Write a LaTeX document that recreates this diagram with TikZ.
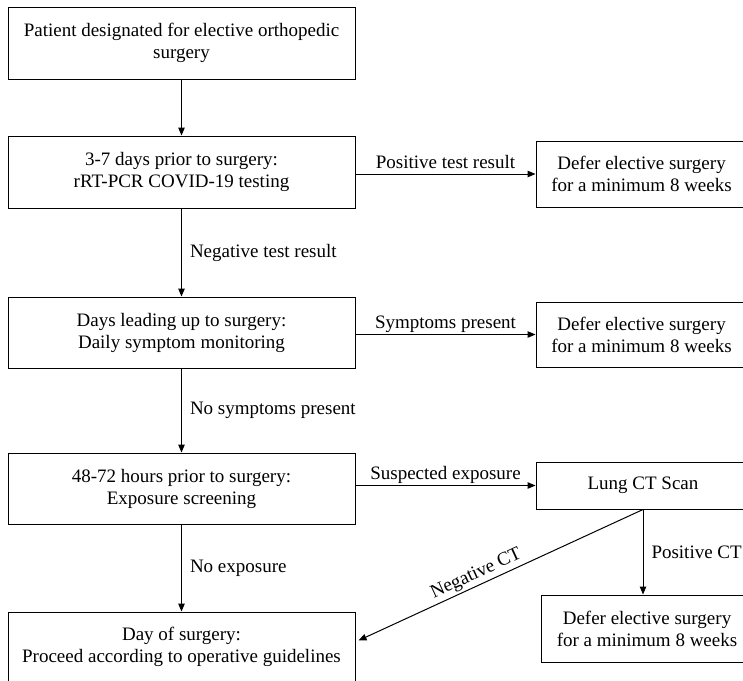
\documentclass[tikz,border=0pt]{standalone}
\usepackage{fontspec}
\setmainfont{Liberation Serif}
\usetikzlibrary{arrows.meta}
\begin{document}
\begin{tikzpicture}[x=1pt,y=-1pt,
  every node/.style={font=\fontsize{19}{22}\selectfont},
  box/.style={draw, line width=1pt, align=center, inner sep=0pt, anchor=center},
  arr/.style={line width=1pt, -{Triangle[length=8pt,width=6.5pt]}},
  lab/.style={inner sep=0pt}
]
\useasboundingbox (0,0) rectangle (743,680);
\clip (0,0) rectangle (743,680);
% left column
\node[box, minimum width=347pt, minimum height=72pt] (b1) at (181.5,43)
  {Patient designated for elective orthopedic\\surgery};
\node[box, minimum width=347pt, minimum height=72pt] (b2) at (181.5,172)
  {3-7 days prior to surgery:\\rRT-PCR COVID-19 testing};
\node[box, minimum width=347pt, minimum height=71pt] (b3) at (181.5,332.5)
  {Days leading up to surgery:\\Daily symptom monitoring};
\node[box, minimum width=347pt, minimum height=71pt] (b4) at (181.5,488.5)
  {48-72 hours prior to surgery:\\Exposure screening};
\node[box, minimum width=347pt, minimum height=69pt] (b5) at (181.5,646.5)
  {Day of surgery:\\Proceed according to operative guidelines};
% right column
\node[box, minimum width=211pt, minimum height=66pt] (r1) at (641.5,174)
  {Defer elective surgery\\for a minimum 8 weeks};
\node[box, minimum width=211pt, minimum height=65pt] (r2) at (641.5,334.5)
  {Defer elective surgery\\for a minimum 8 weeks};
\node[box, minimum width=214pt, minimum height=47pt] (ct) at (643,485.5)
  {Lung CT Scan};
\node[box, minimum width=212pt, minimum height=67pt] (r3) at (647,628.5)
  {Defer elective surgery\\for a minimum 8 weeks};
% vertical connectors
\draw[arr] (b1) -- (b2);
\draw[arr] (b2) -- node[lab, anchor=west, xshift=8pt, midway] {Negative test result} (b3);
\draw[arr] (b3) -- node[lab, anchor=west, xshift=8pt, midway] {No symptoms present} (b4);
\draw[arr] (b4) -- node[lab, anchor=west, xshift=8pt, midway] {No exposure} (b5);
\draw[arr] (ct.south) -- node[lab, anchor=west, xshift=8pt, midway] {Positive CT} (ct.south |- r3.north);
% horizontal connectors
\draw[arr] (b2.east |- r1.west) -- node[lab, anchor=base, midway, yshift=6pt] {Positive test result} (r1.west);
\draw[arr] (b3.east |- r2.west) -- node[lab, anchor=base, midway, yshift=6pt] {Symptoms present} (r2.west);
\draw[arr] (b4.east |- ct.west) -- node[lab, anchor=base, midway, yshift=6pt] {Suspected exposure} (ct.west);
% negative CT
\draw[line width=1pt, {Triangle[length=8pt,width=6.5pt]}-] ([xshift=3pt,yshift=6pt]b5.east) -- node[lab, pos=0.43, sloped, above, inner sep=2pt] {Negative CT} (ct.south);
\end{tikzpicture}
\end{document}
